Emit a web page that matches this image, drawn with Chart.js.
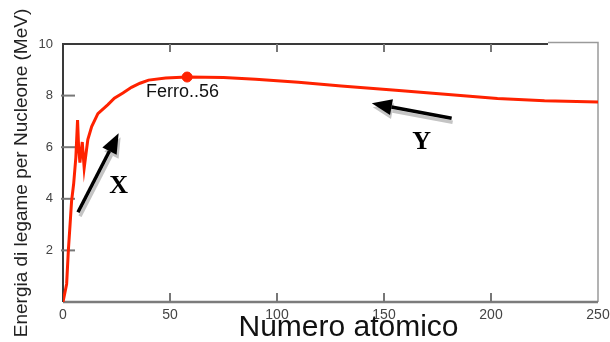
<!DOCTYPE html>
<html>
<head>
<meta charset="utf-8">
<script src="https://cdn.jsdelivr.net/npm/chart.js@4.4.0/dist/chart.umd.min.js"></script>
<style>
  html, body { margin: 0; padding: 0; background: #fff; }
</style>
</head>
<body>
<canvas id="binding-energy" width="610" height="342"></canvas>
<script>
// binding energy per nucleon
const atomicNumbers = [0, 1.7, 2.5, 3.3, 4, 5, 6, 6.8, 7.3, 7.9, 9, 9.9, 11.6, 13.4, 16.3, 21, 24, 28, 32, 36, 40, 48, 58, 75, 90, 110, 130, 157, 180, 203, 225, 250]
const bindingEnergy = [0, 0.7, 2.0, 3.0, 3.9, 4.6, 5.6, 7.05, 6.0, 5.4, 6.2, 5.2, 6.3, 6.8, 7.3, 7.65, 7.9, 8.1, 8.32, 8.48, 8.6, 8.68, 8.72, 8.7, 8.63, 8.52, 8.37, 8.2, 8.04, 7.89, 7.8, 7.75]
const ironNumber = [58]
const ironEnergy = [8.72]
const xTickValues = [0, 50, 100, 150, 200, 250]
const yTickValues = [0, 2, 4, 6, 8, 10]

const fontSans = '"Liberation Sans", Arial, sans-serif'
const fontSerif = '"Liberation Serif", "Times New Roman", serif'

function drawArrow(ctx, x1, y1, x2, y2, color) {
  const ang = Math.atan2(y2 - y1, x2 - x1)
  const headLen = 20
  const headHalf = 8
  const bx = x2 - Math.cos(ang) * headLen
  const by = y2 - Math.sin(ang) * headLen
  ctx.strokeStyle = color
  ctx.fillStyle = color
  ctx.lineWidth = 3.5
  ctx.beginPath()
  ctx.moveTo(x1, y1)
  ctx.lineTo(bx, by)
  ctx.stroke()
  ctx.beginPath()
  ctx.moveTo(x2, y2)
  ctx.lineTo(bx + Math.sin(ang) * headHalf, by - Math.cos(ang) * headHalf)
  ctx.lineTo(bx - Math.sin(ang) * headHalf, by + Math.cos(ang) * headHalf)
  ctx.closePath()
  ctx.fill()
}

// box round the plot with inward ticks
const framePlugin = {
  id: 'frame',
  beforeDatasetsDraw(chart) {
    const { ctx, chartArea: a, scales } = chart
    ctx.save()
    ctx.strokeStyle = '#3a3a3a'
    ctx.lineWidth = 2
    ctx.beginPath()
    ctx.moveTo(a.left, a.bottom)
    ctx.lineTo(a.left, a.top)
    ctx.lineTo(a.right - 50, a.top)
    ctx.stroke()

    ctx.strokeStyle = '#9a9a9a'
    ctx.lineWidth = 1.5
    ctx.beginPath()
    ctx.moveTo(a.right - 50, a.top - 1.5)
    ctx.lineTo(a.right, a.top - 1.5)
    ctx.lineTo(a.right, a.bottom)
    ctx.stroke()

    ctx.strokeStyle = '#7c7c7c'
    ctx.lineWidth = 2.5
    ctx.beginPath()
    ctx.moveTo(a.left, a.bottom)
    ctx.lineTo(a.right, a.bottom)
    ctx.stroke()

    ctx.strokeStyle = '#777'
    ctx.lineWidth = 2
    xTickValues.slice(1, -1).forEach(function (v) {
      const px = scales.x.getPixelForValue(v)
      ctx.beginPath()
      ctx.moveTo(px, a.bottom)
      ctx.lineTo(px, a.bottom - 9)
      ctx.moveTo(px, a.top)
      ctx.lineTo(px, a.top + 8)
      ctx.stroke()
    })
    yTickValues.slice(1, -1).forEach(function (v) {
      const py = scales.y.getPixelForValue(v)
      ctx.beginPath()
      ctx.moveTo(a.left - 2, py)
      ctx.lineTo(a.left + 12, py)
      ctx.stroke()
    })
    ctx.restore()
  },
  afterDraw(chart) {
    const { ctx, chartArea: a, scales } = chart
    const px = v => scales.x.getPixelForValue(v)
    const py = v => scales.y.getPixelForValue(v)
    ctx.save()

    // arrows with their grey shadow
    drawArrow(ctx, px(7) + 2, py(3.48) + 4, px(26) + 2, py(6.54) + 4, '#c4c4c4')
    drawArrow(ctx, px(7), py(3.48), px(26), py(6.54), '#000')
    drawArrow(ctx, px(181.6) + 1, py(7.12) + 4, px(144.3) + 1, py(7.7) + 4, '#c4c4c4')
    drawArrow(ctx, px(181.6), py(7.12), px(144.3), py(7.7), '#000')

    ctx.fillStyle = '#000'
    ctx.textAlign = 'center'
    ctx.textBaseline = 'middle'
    ctx.font = 'bold 26px ' + fontSerif
    ctx.fillText('X', px(26), py(4.49))
    ctx.fillText('Y', px(167.6), py(6.19))

    ctx.fillStyle = '#111'
    ctx.textAlign = 'left'
    ctx.font = '18px ' + fontSans
    ctx.fillText('Ferro..56', px(38.8), py(8.12))

    ctx.textAlign = 'center'
    ctx.font = '30px ' + fontSans
    ctx.fillText('Numero atomico', (a.left + a.right) / 2 + 18, 328)
    ctx.restore()
  },
}

function generateChart() {
  const ctx = document.getElementById('binding-energy').getContext('2d')

  const bindingChart = new Chart(ctx, {
    type: 'line',
    data: {
      datasets: [
        {
          data: atomicNumbers.map((x, i) => ({ x: x, y: bindingEnergy[i] })),
          borderColor: '#ff2200',
          borderWidth: 3,
          pointRadius: 0,
          tension: 0,
          fill: false,
        },
        {
          data: ironNumber.map((x, i) => ({ x: x, y: ironEnergy[i] })),
          borderColor: '#ff2200',
          backgroundColor: '#ff2200',
          pointRadius: 5,
          showLine: false,
        },
      ],
    },
    options: {
      responsive: false,
      animation: false,
      devicePixelRatio: 1,
      layout: {
        padding: { top: 44, right: 12, left: 0, bottom: 0 },
      },
      scales: {
        x: {
          type: 'linear',
          min: 0,
          max: 250,
          afterBuildTicks: scale => {
            scale.ticks = xTickValues.map(v => ({ value: v }))
          },
          afterFit: scale => {
            scale.height = 40
            scale.paddingLeft = 0
            scale.paddingRight = 0
          },
          grid: { display: false, drawTicks: false },
          border: { display: false },
          ticks: {
            padding: 5,
            maxRotation: 0,
            color: '#444',
            font: { family: fontSans, size: 14 },
          },
        },
        y: {
          min: 0,
          max: 10,
          afterBuildTicks: scale => {
            scale.ticks = yTickValues.map(v => ({ value: v }))
          },
          afterFit: scale => {
            scale.width = 63
          },
          grid: { display: false, drawTicks: false },
          border: { display: false },
          ticks: {
            padding: 10,
            color: '#444',
            font: { family: fontSans, size: 13 },
            callback: v => (v === 0 ? '' : v),
          },
          title: {
            display: true,
            text: 'Energia di legame per Nucleone (MeV)',
            color: '#222',
            padding: { top: 10, bottom: 0 },
            font: { family: fontSans, size: 19 },
          },
        },
      },
      plugins: {
        legend: { display: false },
        tooltip: { enabled: false },
      },
    },
    plugins: [framePlugin],
  })
}

generateChart()
</script>
</body>
</html>
